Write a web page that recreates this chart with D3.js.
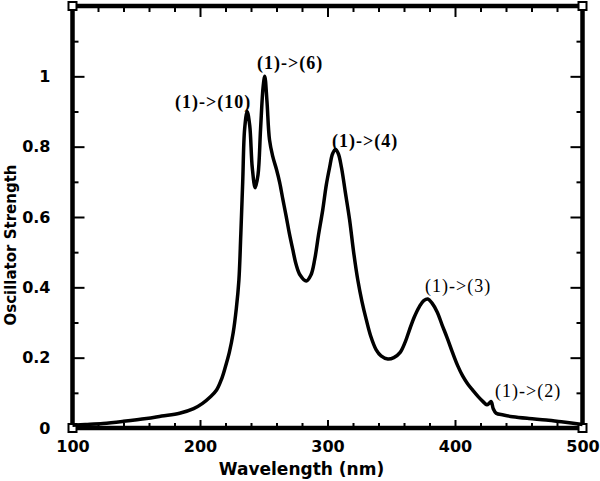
<!DOCTYPE html>
<meta charset="utf-8">
<script src="https://d3js.org/d3.v7.min.js"></script>
<style>
body { margin: 0; background: #fff; }
.tick text { font-family: "DejaVu Sans", sans-serif; font-weight: bold; font-size: 16px; fill: #000; }
.tick line { stroke: #000; stroke-width: 2; }
.label { font-family: "DejaVu Sans", sans-serif; font-weight: bold; fill: #000; }
.note { font-family: "Liberation Serif", "Times New Roman", serif; font-size: 18px; fill: #000; letter-spacing: 1px; }
</style>
<body>
<script>

// spectrum (wavelength nm, oscillator strength)
var wavelength = [100,110,124,140,158,170,184,195,202,208,213,217,220,223,226,228.5,230.5,232,233.5,235,237,
  239,241,243.3,245.5,247.5,249.5,250.8,252.5,254.5,257,260,262.5,265,267.6,270,272.8,275.4,278.5,283.3,287,
  290,293,296.3,299,301.6,304,306.3,308.5,311,314,317.3,320.5,323.8,327,330.4,334,338.2,342,347.3,352,357,
  361,364.3,368,372.2,375.5,378.7,382,386,390,394,398,402,406,410,414,418,422,425,427,428.4,430,432.3,
  438,445.3,458,471.5,485,500];
var strength = [0.008,0.010,0.013,0.019,0.027,0.034,0.042,0.055,0.070,0.088,0.108,0.14,0.175,0.215,0.27,0.34,0.42,
  0.55,0.70,0.85,0.90,0.86,0.74,0.683,0.72,0.85,0.97,1.0,0.93,0.82,0.773,0.735,0.698,0.65,0.602,0.555,0.507,
  0.465,0.435,0.418,0.435,0.48,0.55,0.621,0.69,0.74,0.78,0.792,0.78,0.74,0.67,0.593,0.50,0.42,0.36,0.308,0.26,
  0.222,0.205,0.196,0.20,0.215,0.245,0.279,0.315,0.346,0.362,0.367,0.355,0.33,0.292,0.255,0.215,0.178,0.148,
  0.125,0.107,0.09,0.075,0.066,0.071,0.075,0.055,0.042,0.037,0.032,0.027,0.023,0.017,0.01];

var xMajor = [100,200,300,400,500];
var yMajor = [0,0.2,0.4,0.6,0.8,1];

var noteText = ["(1)->(10)","(1)->(6)","(1)->(4)","(1)->(3)","(1)->(2)"];
var noteX = [180.4,244.7,303.5,376.5,431.4];
var noteY = [0.91,1.021,0.799,0.387,0.088];
var noteBold = [true,true,true,false,false];

var width = 600, height = 481;
var mLeft = 72.5, mRight = 582.5, mTop = 6, mBottom = 428;

var svg = d3.select("body").append("svg")
    .attr("width", width)
    .attr("height", height);

var x = d3.scaleLinear().domain([100,500]).range([mLeft,mRight]);
var y = d3.scaleLinear().domain([0,1.2]).range([mBottom,mTop]);

var xMinor = d3.range(100,501,20).filter(function(d){ return d % 100 != 0; });
var yMinor = d3.range(1,12).map(function(d){ return d/10; }).filter(function(d,i){ return i % 2 == 0; });

function addAxis(axis, tx, ty) {
  var g = svg.append("g").attr("transform","translate(" + tx + "," + ty + ")").call(axis);
  g.select(".domain").remove();
  return g;
}

// bottom
addAxis(d3.axisBottom(x).tickValues(xMajor).tickSize(-8).tickPadding(16).tickFormat(d3.format("d")), 0, mBottom)
  .selectAll("text").attr("dy","0.5em");
addAxis(d3.axisBottom(x).tickValues(xMinor).tickSize(-5).tickFormat(""), 0, mBottom);
// top
addAxis(d3.axisTop(x).tickValues(xMajor).tickSize(-11).tickFormat(""), 0, mTop);
addAxis(d3.axisTop(x).tickValues(xMinor).tickSize(-6).tickFormat(""), 0, mTop);
// left
addAxis(d3.axisLeft(y).tickValues(yMajor).tickSize(-12).tickPadding(22).tickFormat(function(d){ return d == 0 || d == 1 ? d : d3.format(".1f")(d); }), mLeft, 0);
addAxis(d3.axisLeft(y).tickValues(yMinor).tickSize(-6).tickFormat(""), mLeft, 0);
// right
addAxis(d3.axisRight(y).tickValues(yMajor).tickSize(-12).tickFormat(""), mRight, 0);
addAxis(d3.axisRight(y).tickValues(yMinor).tickSize(-6).tickFormat(""), mRight, 0);

svg.append("rect")
    .attr("x", mLeft).attr("y", mTop)
    .attr("width", mRight-mLeft).attr("height", mBottom-mTop)
    .attr("fill","none").attr("stroke","#000").attr("stroke-width",4.5);

// corner squares
var corners = [[mLeft,mTop],[mRight,mTop],[mLeft,mBottom],[mRight,mBottom]];
svg.selectAll(".corner").data(corners).enter().append("rect")
    .attr("x", function(d){ return d[0]-4; })
    .attr("y", function(d){ return d[1]-4; })
    .attr("width",8).attr("height",8)
    .attr("fill","#fff").attr("stroke","#000").attr("stroke-width",2);

var line = d3.line()
    .x(function(d,i){ return x(wavelength[i]); })
    .y(function(d,i){ return y(strength[i]); })
    .curve(d3.curveCatmullRom.alpha(0.5));

svg.append("path")
    .attr("d", line(wavelength))
    .attr("fill","none")
    .attr("stroke","#000")
    .attr("stroke-width",3.5)
    .attr("stroke-linejoin","round");

svg.selectAll(".note").data(noteText).enter().append("text")
    .attr("class","note")
    .attr("x", function(d,i){ return x(noteX[i]); })
    .attr("y", function(d,i){ return y(noteY[i]); })
    .style("font-weight", function(d,i){ return noteBold[i] ? "bold" : "normal"; })
    .text(function(d){ return d; });

svg.append("text")
    .attr("class","label")
    .attr("x", 301.5).attr("y", 474.5)
    .attr("text-anchor","middle")
    .style("font-size","17px")
    .text("Wavelength (nm)");

svg.append("text")
    .attr("class","label")
    .attr("transform","translate(16,245) rotate(-90)")
    .attr("text-anchor","middle")
    .style("font-size","15px")
    .text("Oscillator Strength");

</script>
</body>
</html>
